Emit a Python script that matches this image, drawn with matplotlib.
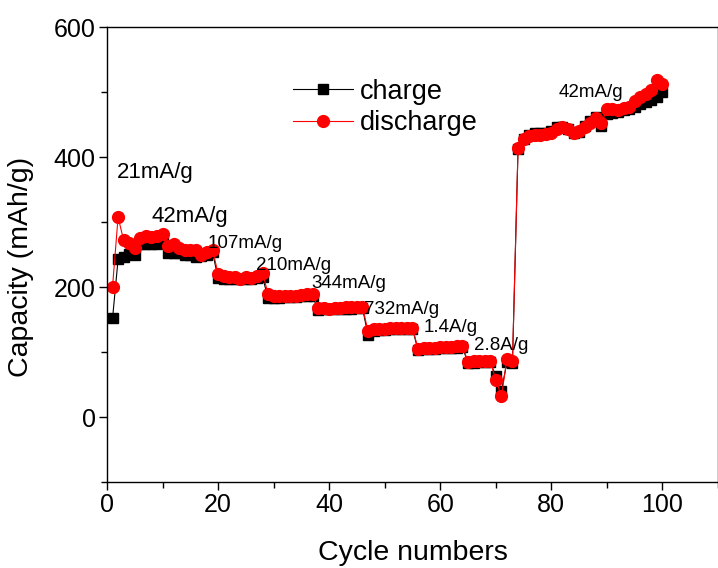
import numpy as np
import matplotlib.pyplot as plt
from matplotlib.ticker import MultipleLocator

plt.rcParams['font.family'] = ['Liberation Sans', 'DejaVu Sans']

#Cycle numbers 1..100
cycles = np.arange(1, 101)

#Charge capacity (mAh/g)
charge = [152, 243, 246, 251, 249, 267, 266, 266, 267, 270,
          252, 252, 252, 250, 250, 247, 248, 250, 254, 214,
          213, 213, 212, 212, 213, 213, 214, 216, 183, 184,
          184, 185, 185, 185, 186, 186, 187, 165, 166, 166,
          166, 167, 167, 167, 168, 168, 126, 133, 134, 134,
          135, 135, 136, 136, 136, 103, 105, 105, 105, 106,
          106, 107, 107, 108, 83, 84, 85, 85, 85, 63,
          40, 85, 84, 412, 428, 435, 437, 438, 437, 440,
          446, 447, 444, 437, 439, 448, 456, 462, 448, 467,
          468, 470, 472, 474, 478, 482, 485, 488, 492, 500]

#Discharge capacity (mAh/g)
discharge = [201, 308, 272, 268, 261, 276, 279, 277, 279, 282,
             263, 267, 260, 258, 258, 257, 249, 254, 258, 221,
             218, 216, 215, 213, 216, 214, 217, 222, 190, 187,
             186, 186, 187, 187, 188, 189, 190, 168, 168, 167,
             168, 168, 169, 169, 169, 170, 132, 135, 136, 136,
             137, 137, 137, 137, 138, 105, 107, 107, 107, 108,
             108, 108, 109, 110, 85, 87, 86, 86, 86, 58,
             32, 89, 87, 414, 428, 432, 434, 435, 436, 437,
             443, 446, 443, 438, 440, 446, 452, 460, 452, 474,
             474, 473, 476, 478, 487, 492, 497, 504, 519, 513]

#Current density labels and where they sit (cycle, capacity, size)
rate_labels = ['21mA/g', '42mA/g', '107mA/g', '210mA/g', '344mA/g',
               '732mA/g', '1.4A/g', '2.8A/g', '42mA/g']
label_x = [1.8, 8.1, 18.2, 26.8, 36.8, 46.3, 57.0, 66.1, 81.3]
label_y = [377, 309, 268, 234, 206, 166, 138, 111, 500]
label_size = [16, 16, 13.5, 13.5, 13.5, 13.5, 13.5, 13.5, 13.5]

fig = plt.figure(figsize=(7.18, 5.68), dpi=100)
ax = fig.add_axes([0.149, 0.151, 0.851, 0.801])

ax.plot(cycles, charge, color='black', lw=0.8, marker='s', ms=7,
        mfc='black', mec='black', label='charge')
ax.plot(cycles, discharge, color='red', lw=0.8, marker='o', ms=8.5,
        mfc='red', mec='red', label='discharge')

for t, x, y, s in zip(rate_labels, label_x, label_y, label_size):
    ax.text(x, y, t, fontsize=s, va='center', ha='left')

ax.set_xlim(0, 110)
ax.set_ylim(-100, 600)
ax.xaxis.set_major_locator(MultipleLocator(20))
ax.xaxis.set_minor_locator(MultipleLocator(10))
ax.yaxis.set_major_locator(MultipleLocator(200))
ax.yaxis.set_minor_locator(MultipleLocator(100))
ax.tick_params(which='major', direction='out', length=6, width=1,
               labelsize=18, pad=2)
ax.tick_params(which='minor', direction='out', length=4, width=1)
for sp in ax.spines.values():
    sp.set_linewidth(1)

ax.set_xlabel('Cycle numbers', fontsize=20.5, labelpad=16)
ax.set_ylabel('Capacity (mAh/g)', fontsize=20.5)
ax.yaxis.set_label_coords(-0.12, 0.473)

ax.legend(loc='upper left', bbox_to_anchor=(0.265, 0.94), frameon=False,
          fontsize=19.5, handlelength=2.2, handletextpad=0.25, labelspacing=0.2)

plt.savefig('out.png', dpi=100)
